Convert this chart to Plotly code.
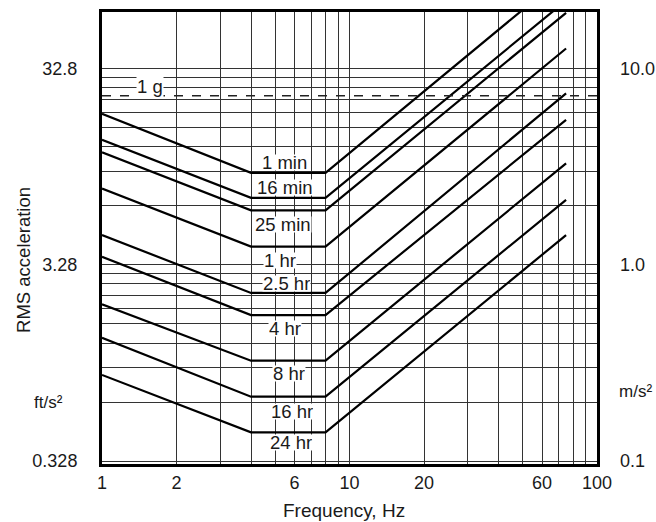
import numpy as np
import plotly.graph_objects as go

# ---------------- data ----------------
labels = ["1 min", "16 min", "25 min", "1 hr", "2.5 hr", "4 hr", "8 hr", "16 hr", "24 hr"]
corner_freq = [1, 4, 8, 75]          # Hz: start, knee 1, knee 2, end
acc_at_1hz = [5.9, 4.35, 3.75, 2.45, 1.42, 1.10, 0.63, 0.425, 0.275]   # m/s^2
acc_flat = [2.95, 2.20, 1.90, 1.24, 0.72, 0.555, 0.325, 0.213, 0.14]   # m/s^2 (4-8 Hz)
acc_end = [30.5, 22.3, 19.3, 12.7, 7.5, 5.5, 3.3, 2.15, 1.42]          # m/s^2 at end

label_freq = [5.45, 5.5, 5.4, 5.25, 5.55, 5.5, 5.7, 5.85, 5.8]
label_acc = [3.35, 2.47, 1.60, 1.06, 0.806, 0.472, 0.28, 0.1785, 0.124]

g_line_acc = 7.3          # dashed "1 g" reference line as drawn
g_label_pos = (1.56, 8.1)

x_grid = [1, 2, 3, 4, 5, 6, 7, 8, 9, 10, 20, 30, 40, 50, 60, 70, 80, 90, 100]
x_labelled = {1: "1", 2: "2", 6: "6", 10: "10", 20: "20", 60: "60", 100: "100"}
y_grid = [0.1, 0.2, 0.3, 0.4, 0.5, 0.6, 0.7, 0.8, 0.9,
          1, 2, 3, 4, 5, 6, 7, 8, 9, 10]
left_labels = {0.1: "0.328", 1: "3.28", 10: "32.8"}
right_ticks = [0.1, 1, 10]
right_labels = ["0.1", "1.0", "10.0"]

y_range = [0.0966, 19.5]
x_range = [1, 100]

FONT = "Liberation Sans, Arial, sans-serif"
TXT = "#1a1a1a"

fig = go.Figure()

for name, a1, af, ae in zip(labels, acc_at_1hz, acc_flat, acc_end):
    fig.add_trace(go.Scatter(
        x=corner_freq, y=[a1, af, af, ae], mode="lines", name=name,
        line=dict(color="black", width=2.2), showlegend=False, hoverinfo="skip"))

fig.add_trace(go.Scatter(
    x=x_range, y=[g_line_acc, g_line_acc], mode="lines", yaxis="y2",
    line=dict(color="#222", width=1.5, dash="dash"), showlegend=False, hoverinfo="skip"))

annotations = []
for name, f, a in zip(labels, label_freq, label_acc):
    annotations.append(dict(
        x=np.log10(f), y=np.log10(a), xref="x", yref="y", text=name,
        showarrow=False, font=dict(family=FONT, size=18.5, color=TXT),
        bgcolor="white", borderpad=0, height=15, xanchor="center", yanchor="middle"))

annotations.append(dict(
    x=np.log10(g_label_pos[0]), y=np.log10(g_label_pos[1]), xref="x", yref="y",
    text="1 g", showarrow=False, font=dict(family=FONT, size=18.5, color=TXT),
    bgcolor="white", borderpad=0, xanchor="center", yanchor="middle"))

annotations += [
    dict(x=-0.109, y=np.log10(0.2), xref="paper", yref="y", text="ft/s²",
         xanchor="center", yanchor="middle",
         showarrow=False, font=dict(family=FONT, size=17, color=TXT)),
    dict(x=1.077, y=np.log10(0.226), xref="paper", yref="y", text="m/s²",
         xanchor="center", yanchor="middle",
         showarrow=False, font=dict(family=FONT, size=17, color=TXT)),
    dict(x=-0.16, y=0.451, xref="paper", yref="paper", text="RMS acceleration",
         xanchor="center", yanchor="middle", textangle=-90,
         showarrow=False, font=dict(family=FONT, size=18.5, color=TXT)),
    dict(x=0.489, y=-0.102, xref="paper", yref="paper", text="Frequency, Hz",
         xanchor="center", yanchor="middle",
         showarrow=False, font=dict(family=FONT, size=19, color=TXT)),
]

fig.update_layout(
    width=656, height=522,
    margin=dict(l=102, r=59, t=12, b=58),
    paper_bgcolor="white", plot_bgcolor="white",
    font=dict(family=FONT, size=18, color=TXT),
    annotations=annotations,
    xaxis=dict(
        type="log", range=[np.log10(x_range[0]), np.log10(x_range[1])],
        tickmode="array", tickvals=x_grid,
        ticktext=[x_labelled.get(v, "") for v in x_grid],
        ticks="", showgrid=True, gridcolor="#333", gridwidth=1.2,
        showline=True, linecolor="black", linewidth=3, mirror=True,
        zeroline=False, ticklabelstandoff=0, automargin=False,
        tickfont=dict(family=FONT, size=18, color=TXT)),
    yaxis=dict(
        type="log", range=[np.log10(y_range[0]), np.log10(y_range[1])],
        tickmode="array", tickvals=y_grid,
        ticktext=[left_labels.get(v, "") for v in y_grid],
        ticks="", showgrid=True, gridcolor="#333", gridwidth=1.2,
        showline=True, linecolor="black", linewidth=3, mirror=True,
        zeroline=False, ticklabelstandoff=18, automargin=False,
        tickfont=dict(family=FONT, size=18, color=TXT)),
    yaxis2=dict(
        type="log", range=[np.log10(y_range[0]), np.log10(y_range[1])],
        overlaying="y", side="right", tickmode="array",
        tickvals=right_ticks, ticktext=right_labels, ticks="",
        showgrid=False, zeroline=False, ticklabelstandoff=22, automargin=False,
        tickfont=dict(family=FONT, size=18, color=TXT)),
)

fig.write_html("out.html")
